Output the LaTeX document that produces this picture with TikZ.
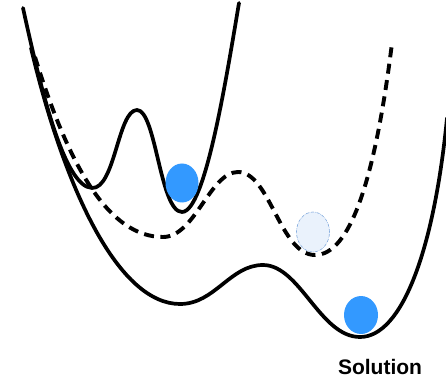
\documentclass[tikz,border=0pt]{standalone}
\usepackage{fontspec}
\setmainfont{Liberation Sans}
\usetikzlibrary{shapes.geometric}
\begin{document}
\begin{tikzpicture}[x=1pt,y=-1pt,
  curve/.style={line width=3.7pt,line cap=round,line join=round},
  dashcurve/.style={line width=3.9pt,dash pattern=on 10pt off 6.5pt},
  ball/.style={fill=ballblue,draw=none},
  ghost/.style={fill=ghostblue,draw=ghostedge,line width=0.6pt,dash pattern=on 3pt off 1pt on 0.5pt off 1pt}]
\definecolor{ballblue}{HTML}{3399FF}
\definecolor{ghostblue}{HTML}{EAF2FC}
\definecolor{ghostedge}{HTML}{7FA8DC}
\useasboundingbox (0,0) rectangle (446,379);
% inner W-shaped landscape
\draw[curve] (23,8) .. controls (42,95) and (65,187) .. (92,188)
  .. controls (115,189) and (118,110) .. (137,110)
  .. controls (156,110) and (160,212) .. (182,212)
  .. controls (205,212) and (226,80) .. (239,3);
% outer landscape
\draw[curve] (31,48) .. controls (66,195) and (120,304) .. (180,304)
  .. controls (215,304) and (230,265) .. (263,265)
  .. controls (300,265) and (320,337) .. (360,337)
  .. controls (402,337) and (434,250) .. (447,118);
% dashed landscape
\draw[dashcurve] (35,57) .. controls (70,170) and (110,237) .. (163,237)
  .. controls (195,237) and (210,172) .. (238,172)
  .. controls (270,172) and (280,255) .. (315,255)
  .. controls (350,255) and (375,180) .. (392,43);
% balls
\node[ball,ellipse,minimum width=33pt,minimum height=39pt,inner sep=0pt] (b1) at (182,183) {};
\node[ghost,ellipse,minimum width=33pt,minimum height=40pt,inner sep=0pt] (b2) at (313,232) {};
\node[ball,ellipse,minimum width=34pt,minimum height=38pt,inner sep=0pt] (b3) at (361,315) {};
\node[font=\fontsize{21}{25}\selectfont\bfseries,inner sep=0pt] (sol) at (380,367) {Solution};
\end{tikzpicture}
\end{document}
